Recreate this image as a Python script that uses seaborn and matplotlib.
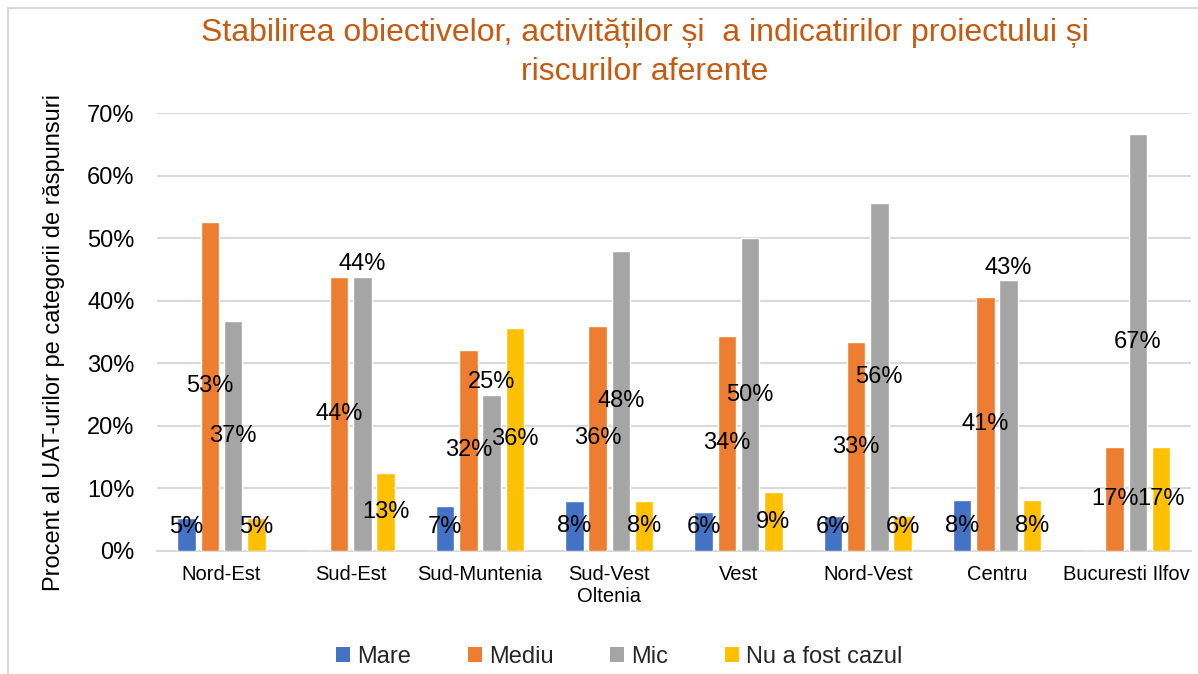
import matplotlib
matplotlib.use("Agg")
import matplotlib.pyplot as plt
from matplotlib.patches import Rectangle, Patch
from matplotlib.ticker import PercentFormatter
import pandas as pd
import seaborn as sns

# regions (x axis) and answer categories (hue)
regions = ["Nord-Est", "Sud-Est", "Sud-Muntenia", "Sud-Vest\nOltenia", "Vest",
           "Nord-Vest", "Centru", "Bucuresti Ilfov"]
categories = ["Mare", "Mediu", "Mic", "Nu a fost cazul"]

# percent of UATs per answer category
mare = [5.26, 0.0, 7.14, 8.0, 6.25, 5.56, 8.11, 0.0]
mediu = [52.63, 43.75, 32.14, 36.0, 34.38, 33.33, 40.54, 16.67]
mic = [36.84, 43.75, 25.0, 48.0, 50.0, 55.56, 43.24, 66.67]
nu_cazul = [5.26, 12.5, 35.71, 8.0, 9.38, 5.56, 8.11, 16.67]

yticks = [0, 10, 20, 30, 40, 50, 60, 70]

title = "Stabilirea obiectivelor, activităților și  a indicatirilor proiectului și\nriscurilor aferente"
ylabel = "Procent al UAT-urilor pe categorii de răspunsuri"

colors = ["#4472C4", "#ED7D31", "#A5A5A5", "#FFC000"]
# labels that sit on top of the bar instead of in the middle
above = {("Sud-Est", "Mic"), ("Sud-Muntenia", "Mic"), ("Centru", "Mic")}

series = [mare, mediu, mic, nu_cazul]
rows = []
for cat, vals in zip(categories, series):
    for reg, v in zip(regions, vals):
        rows.append({"region": reg, "category": cat, "value": v})
df = pd.DataFrame(rows)

sns.set_style("white")
plt.rcParams["font.family"] = ["Liberation Sans", "DejaVu Sans"]

fig = plt.figure(figsize=(11.98, 6.74), dpi=100)
ax = fig.add_axes([0.131, 0.1825, 0.863, 0.6498])

sns.barplot(data=df, x="region", y="value", hue="category", order=regions,
            hue_order=categories, palette=colors, saturation=1, width=0.72,
            gap=0.2, legend=False, ax=ax, zorder=3)

# data labels
for container, cat, vals in zip(ax.containers, categories, series):
    for bar, reg, v in zip(container, regions, vals):
        if v == 0:
            continue
        x = bar.get_x() + bar.get_width() / 2
        txt = f"{int(v + 0.5)}%"
        if (reg, cat) in above:
            ax.text(x, v + 0.3, txt, ha="center", va="bottom", fontsize=17,
                    color="black", zorder=5)
        else:
            ax.text(x, max(v / 2, 3.8), txt, ha="center", va="center",
                    fontsize=17, color="black", zorder=5)

ax.set_ylim(0, 70)
ax.set_xlim(-0.5, len(regions) - 0.5)
ax.set_yticks(yticks)
ax.yaxis.set_major_formatter(PercentFormatter(100, decimals=0))
ax.grid(axis="y", color="#D9D9D9", linewidth=1.5, zorder=0)
ax.set_axisbelow(True)
for s in ["left", "right", "top"]:
    ax.spines[s].set_visible(False)
ax.spines["bottom"].set_color("#D9D9D9")
ax.spines["bottom"].set_linewidth(1.5)
ax.tick_params(axis="y", length=0, pad=16, labelsize=17, labelcolor="black")
ax.tick_params(axis="x", length=0, pad=10, labelsize=14.5, labelcolor="black")
ax.set_xlabel("")
ax.set_ylabel(ylabel, fontsize=17, color="black")
ax.yaxis.set_label_coords(-0.089, 0.477)

fig.text(0.538, 0.922, title, ha="center", va="center", fontsize=23,
         color="#C55A11", linespacing=1.38)

handles = [Patch(facecolor=c, edgecolor="none") for c in colors]
fig.legend(handles, categories, loc="center", bbox_to_anchor=(0.517, 0.025),
           ncol=4, frameon=False, fontsize=17, handlelength=0.6,
           handleheight=0.6, handletextpad=0.3, columnspacing=2.4)

# chart area border
fig.patches.append(Rectangle((8 / 1198, -0.1), 1.2, 1.1 - 8 / 674, fill=False,
                             edgecolor="#D9D9D9", linewidth=1.5,
                             transform=fig.transFigure, figure=fig))

fig.savefig("out.png", dpi=100)
